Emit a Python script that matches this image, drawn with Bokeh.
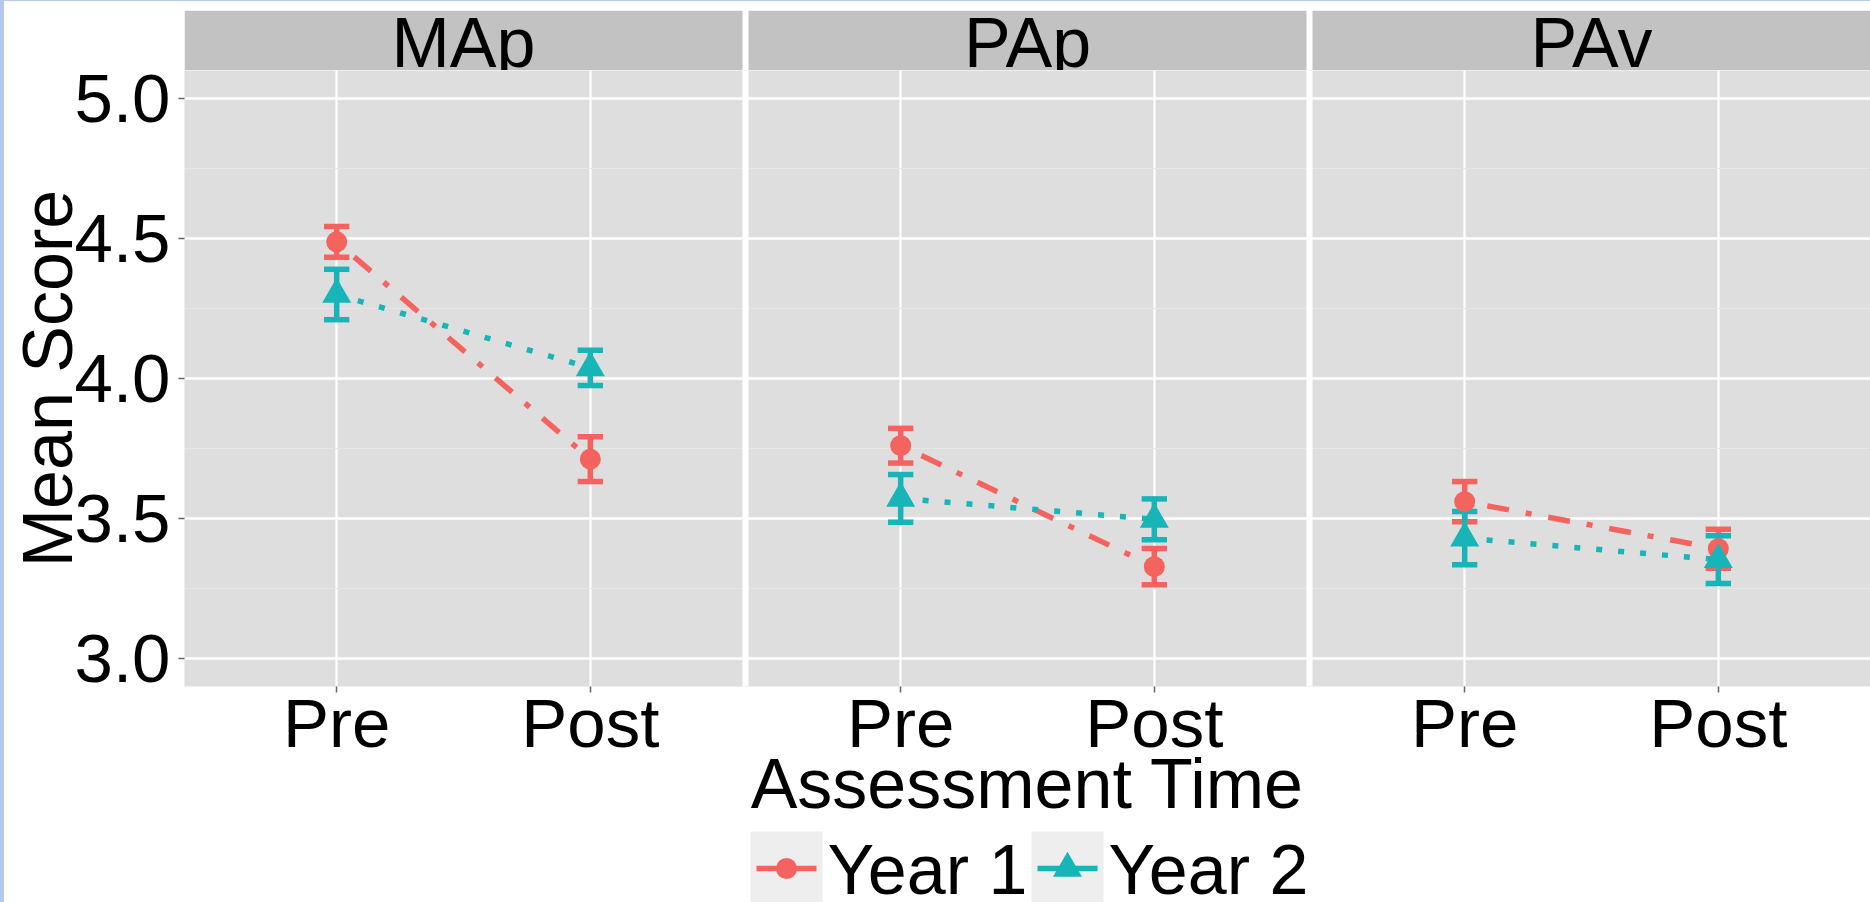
from bokeh.plotting import figure
from bokeh.layouts import column, row
from bokeh.models import (Range1d, FixedTicker, CustomJSTickFormatter,
                          PrintfTickFormatter, ColumnDataSource, Spacer)
from bokeh.core.properties import value
from bokeh.embed import file_html
from bokeh.resources import INLINE

# ---- data -------------------------------------------------------------
scales = ["MAp", "PAp", "PAv"]
times = ["Pre", "Post"]
years = ["Year 1", "Year 2"]

year1_pre_mean = [4.488, 3.760, 3.560]
year1_post_mean = [3.712, 3.328, 3.392]
year1_pre_se = [0.055, 0.062, 0.072]
year1_post_se = [0.080, 0.065, 0.070]

year2_pre_mean = [4.300, 3.572, 3.430]
year2_post_mean = [4.038, 3.497, 3.353]
year2_pre_se = [0.090, 0.085, 0.095]
year2_post_se = [0.063, 0.073, 0.085]

y_ticks = [3.0, 3.5, 4.0, 4.5, 5.0]
y_minor = [3.25, 3.75, 4.25, 4.75]

# ---- style ------------------------------------------------------------
FONT = "Liberation Sans"
colors = ["#F5635F", "#18B5B8"]
markers = ["circle", "triangle"]
marker_sizes = [21, 29]
dashes = ["6 17 22 17", "6 16"]
LW = 5.5
PANEL_BG = "#DEDEDE"
STRIP_BG = "#C2C2C2"
KEY_BG = "#EEEEEE"
EDGE = "#B5C9EC"

PAGE_W, PAGE_H = 1870, 902
EDGE_L, EDGE_T = 4, 1           # light-blue window edge
W = PAGE_W - EDGE_L
PANEL_LEFT = 184                # page x of the first facet
LEFT = PANEL_LEFT - EDGE_L
GAP_PX = 6
PANEL_PX = (W - LEFT - 2 * GAP_PX) / 3
GAP = GAP_PX / PANEL_PX * 2.2
STEP = 2.2 + GAP
offsets = [i * STEP for i in range(len(scales))]
x_range = Range1d(0.4, offsets[-1] + 2.6)
y_range = Range1d(2.9, 5.1)

# ---- facet strips -----------------------------------------------------
STRIP_H = 70 - EDGE_T
strip = figure(width=W, height=STRIP_H, x_range=x_range, y_range=Range1d(0, 1),
               min_border_left=LEFT, min_border_right=0, min_border_top=10 - EDGE_T,
               min_border_bottom=0, x_axis_location=None, y_axis_location=None,
               output_backend="svg", toolbar_location=None)
strip.outline_line_color = None
strip.background_fill_color = "white"
strip.grid.visible = False
strip.quad(left=[o + 0.4 for o in offsets], right=[o + 2.6 for o in offsets],
           bottom=0, top=1, fill_color=STRIP_BG, line_color=None)
strip.text(x=[o + 1.5 for o in offsets], y=28 / 60, text=scales,
           text_font=value(FONT), text_font_size="70px", text_color="black",
           text_align="center", text_baseline="alphabetic")

# ---- panels -----------------------------------------------------------
MAIN_H = 755
main = figure(width=W, height=MAIN_H, x_range=x_range, y_range=y_range,
              min_border_left=LEFT, min_border_right=0, min_border_top=0,
              min_border_bottom=136, output_backend="svg", toolbar_location=None)
main.outline_line_color = None
main.background_fill_color = PANEL_BG
main.border_fill_color = "white"

tick_x = [o + t for o in offsets for t in (1, 2)]
main.xaxis.ticker = FixedTicker(ticks=tick_x)
main.xaxis.formatter = CustomJSTickFormatter(
    args=dict(labels=times), code="return labels[index % labels.length]")
main.yaxis.ticker = FixedTicker(ticks=y_ticks, minor_ticks=y_minor)
main.yaxis.formatter = PrintfTickFormatter(format="%.1f")

for ax in (main.xaxis[0], main.yaxis[0]):
    ax.axis_line_color = None
    ax.major_tick_in = 0
    ax.major_tick_out = 6
    ax.major_tick_line_color = "#666666"
    ax.major_tick_line_width = 1.5
    ax.minor_tick_line_color = None
    ax.major_label_text_font = FONT
    ax.major_label_text_font_size = "69px"
    ax.major_label_text_color = "black"
    ax.axis_label_text_font = FONT
    ax.axis_label_text_font_size = "70px"
    ax.axis_label_text_font_style = "normal"
    ax.axis_label_text_color = "black"

main.xaxis.axis_label = "Assessment Time"
main.yaxis.axis_label = "Mean Score"
main.xaxis.major_label_standoff = -8
main.xaxis.axis_label_standoff = -20
main.yaxis.major_label_standoff = 8
main.yaxis.axis_label_standoff = -15

main.xgrid.grid_line_color = "white"
main.xgrid.grid_line_width = 2.2
main.ygrid.grid_line_color = "white"
main.ygrid.grid_line_width = 2.6
main.ygrid.minor_grid_line_color = "#E6E6E6"
main.ygrid.minor_grid_line_width = 1.2

# white gutters between facets
main.quad(left=[o + 2.6 for o in offsets[:-1]], right=[o + 0.4 for o in offsets[1:]],
          bottom=y_range.start, top=y_range.end, fill_color="white", line_color=None)

series = [
    (year1_pre_mean, year1_post_mean, year1_pre_se, year1_post_se),
    (year2_pre_mean, year2_post_mean, year2_pre_se, year2_post_se),
]

sources = []
for pre_m, post_m, pre_se, post_se in series:
    xs, ms, ses = [], [], []
    for i, o in enumerate(offsets):
        xs += [o + 1, o + 2]
        ms += [pre_m[i], post_m[i]]
        ses += [pre_se[i], post_se[i]]
    sources.append(dict(
        x=xs, mean=ms,
        lo=[m - s for m, s in zip(ms, ses)],
        hi=[m + s for m, s in zip(ms, ses)],
        x0=[x - 0.05 for x in xs], x1=[x + 0.05 for x in xs],
    ))

# error bars
for k, d in enumerate(sources):
    src = ColumnDataSource(d)
    for col in ("lo", "hi"):
        main.segment(x0="x0", x1="x1", y0=col, y1=col, source=src,
                     line_color=colors[k], line_width=LW)
    main.segment(x0="x", x1="x", y0="lo", y1="hi", source=src,
                 line_color=colors[k], line_width=LW)

# connecting lines within each facet
for k, d in enumerate(sources):
    main.multi_line(xs=[d["x"][2 * i:2 * i + 2] for i in range(len(scales))],
                    ys=[d["mean"][2 * i:2 * i + 2] for i in range(len(scales))],
                    line_color=colors[k], line_width=LW, line_dash=dashes[k])

# points
for k, d in enumerate(sources):
    main.scatter(x=d["x"], y=d["mean"], marker=markers[k], size=marker_sizes[k],
                 fill_color=colors[k], line_color=None)

# ---- legend (coordinates in page pixels) ------------------------------
LEG_H = PAGE_H - 70 - MAIN_H
leg = figure(width=W, height=LEG_H, x_range=Range1d(PANEL_LEFT, PAGE_W),
             y_range=Range1d(PAGE_H, PAGE_H - LEG_H),
             min_border_left=LEFT, min_border_right=0, min_border_top=0,
             min_border_bottom=0, x_axis_location=None, y_axis_location=None,
             output_backend="svg", toolbar_location=None)
leg.outline_line_color = None
leg.grid.visible = False
leg.background_fill_color = "white"
leg.border_fill_color = "white"

key_left = [750, 1031]
KEY = 72
key_y = 868
leg.quad(left=key_left, right=[k + KEY for k in key_left], top=831, bottom=831 + KEY,
         fill_color=KEY_BG, line_color=None)
for k, x0 in enumerate(key_left):
    leg.segment(x0=x0 + 6, x1=x0 + KEY - 6, y0=key_y, y1=key_y,
                line_color=colors[k], line_width=LW)
    leg.scatter(x=[x0 + KEY / 2], y=[key_y], marker=markers[k],
                size=marker_sizes[k], fill_color=colors[k], line_color=None)
leg.text(x=[k + KEY + 5 for k in key_left], y=869, text=years,
         text_font=value(FONT), text_font_size="70px", text_color="black",
         text_align="left", text_baseline="alphabetic")

edge_left = Spacer(width=EDGE_L, height=PAGE_H, styles={"background-color": EDGE})
edge_top = Spacer(width=W, height=EDGE_T, styles={"background-color": EDGE})
layout = row(edge_left, column(edge_top, strip, main, leg, spacing=0), spacing=0)
open("out.html", "w").write(file_html(layout, INLINE))
